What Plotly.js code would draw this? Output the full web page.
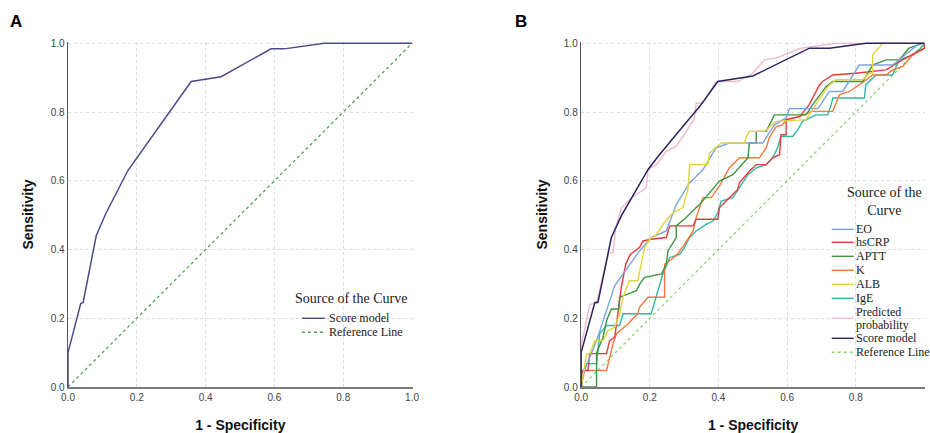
<!DOCTYPE html>
<html>
<head>
<meta charset="utf-8">
<script src="https://cdn.plot.ly/plotly-3.0.1.min.js"></script>
<style>html,body{margin:0;padding:0;background:#fff}#chart{width:930px;height:433px}</style>
</head>
<body>
<div id="chart"></div>
<script>
// ---------- data ----------
var tickVals = [0, 0.2, 0.4, 0.6, 0.8, 1.0];
var tickText = ["0.0", "0.2", "0.4", "0.6", "0.8", "1.0"];

var refX = [0, 1];
var refY = [0, 1];

// Panel A: Score model
var scoreAX = [0, 0, 0.037, 0.044, 0.082, 0.11, 0.174, 0.295, 0.358, 0.445, 0.590, 0.629, 0.745, 1];
var scoreAY = [0, 0.10, 0.243, 0.246, 0.44, 0.505, 0.63, 0.80, 0.889, 0.903, 0.984, 0.984, 1.0, 1];

// Panel B: Score model
var scoreBX = [0, 0, 0.04, 0.049, 0.088, 0.117, 0.195, 0.224, 0.272, 0.345, 0.398, 0.5, 0.665, 0.723, 0.83, 1];
var scoreBY = [0, 0.10, 0.246, 0.246, 0.435, 0.498, 0.633, 0.671, 0.729, 0.816, 0.889, 0.905, 0.986, 0.986, 1.0, 1];

var predX = [0, 0, 0.025, 0.045, 0.08, 0.093, 0.10, 0.117, 0.146, 0.19, 0.195, 0.219, 0.248, 0.277, 0.33, 0.335, 0.355, 0.393, 0.456, 0.50, 0.534, 0.568, 0.636, 0.742, 1];
var predY = [0, 0.12, 0.24, 0.245, 0.39, 0.391, 0.46, 0.52, 0.55, 0.58, 0.633, 0.647, 0.686, 0.70, 0.78, 0.826, 0.826, 0.889, 0.889, 0.913, 0.952, 0.957, 0.985, 1.0, 1];

var eoX = [0, 0.006, 0.045, 0.098, 0.17, 0.204, 0.248, 0.277, 0.316, 0.355, 0.393, 0.432, 0.529, 0.563, 0.597, 0.607, 0.69, 0.723, 0.762, 0.81, 0.907, 0.955, 0.985, 1];
var eoY = [0, 0.039, 0.135, 0.295, 0.396, 0.435, 0.454, 0.531, 0.594, 0.633, 0.696, 0.71, 0.71, 0.763, 0.783, 0.81, 0.81, 0.86, 0.86, 0.937, 0.937, 0.976, 1.0, 1];

var crpX = [0, 0.004, 0.02, 0.025, 0.074, 0.083, 0.098, 0.107, 0.117, 0.13, 0.143, 0.17, 0.18, 0.204, 0.248, 0.258, 0.326, 0.335, 0.398, 0.403, 0.422, 0.456, 0.461, 0.49, 0.51, 0.539, 0.558, 0.578, 0.582, 0.597, 0.597, 0.636, 0.664, 0.694, 0.703, 0.733, 0.80, 0.888, 0.936, 1, 1];
var crpY = [0, 0.048, 0.048, 0.097, 0.097, 0.135, 0.145, 0.213, 0.29, 0.357, 0.386, 0.406, 0.425, 0.43, 0.435, 0.469, 0.469, 0.488, 0.488, 0.522, 0.541, 0.575, 0.594, 0.628, 0.647, 0.647, 0.667, 0.676, 0.734, 0.734, 0.778, 0.787, 0.821, 0.879, 0.889, 0.908, 0.913, 0.923, 0.952, 0.986, 1];

var apttX = [0, 0.045, 0.045, 0.064, 0.074, 0.088, 0.11, 0.112, 0.137, 0.161, 0.171, 0.185, 0.234, 0.248, 0.253, 0.277, 0.277, 0.306, 0.335, 0.345, 0.374, 0.403, 0.442, 0.461, 0.486, 0.49, 0.51, 0.51, 0.539, 0.563, 0.655, 0.674, 0.694, 0.713, 0.733, 0.82, 0.849, 0.888, 0.926, 0.955, 0.994, 1];
var apttY = [0, 0, 0.10, 0.145, 0.193, 0.227, 0.227, 0.261, 0.271, 0.28, 0.30, 0.319, 0.329, 0.357, 0.396, 0.435, 0.469, 0.493, 0.522, 0.531, 0.565, 0.599, 0.618, 0.638, 0.667, 0.71, 0.71, 0.744, 0.744, 0.792, 0.792, 0.821, 0.85, 0.874, 0.889, 0.889, 0.937, 0.952, 0.952, 0.986, 1.0, 1];

var kX = [0, 0.006, 0.01, 0.074, 0.083, 0.093, 0.103, 0.137, 0.165, 0.17, 0.195, 0.243, 0.243, 0.277, 0.301, 0.326, 0.335, 0.345, 0.355, 0.379, 0.403, 0.432, 0.461, 0.519, 0.529, 0.539, 0.548, 0.568, 0.587, 0.597, 0.636, 0.67, 0.733, 0.752, 0.781, 0.81, 0.849, 0.888, 0.907, 0.936, 0.965, 1, 1];
var kY = [0, 0.03, 0.048, 0.048, 0.087, 0.126, 0.155, 0.184, 0.213, 0.232, 0.261, 0.261, 0.357, 0.382, 0.415, 0.454, 0.493, 0.522, 0.551, 0.551, 0.585, 0.638, 0.667, 0.667, 0.681, 0.696, 0.725, 0.758, 0.763, 0.778, 0.787, 0.802, 0.802, 0.85, 0.86, 0.879, 0.908, 0.908, 0.923, 0.932, 0.966, 0.986, 1];

var albX = [0, 0.006, 0.016, 0.025, 0.04, 0.064, 0.078, 0.098, 0.112, 0.122, 0.141, 0.165, 0.175, 0.185, 0.20, 0.219, 0.238, 0.267, 0.296, 0.311, 0.316, 0.369, 0.374, 0.403, 0.408, 0.476, 0.481, 0.49, 0.534, 0.568, 0.655, 0.674, 0.694, 0.718, 0.742, 0.82, 0.839, 0.849, 0.849, 0.878, 1];
var albY = [0, 0.04, 0.097, 0.097, 0.135, 0.135, 0.164, 0.174, 0.213, 0.261, 0.309, 0.309, 0.357, 0.406, 0.43, 0.444, 0.473, 0.507, 0.522, 0.575, 0.647, 0.647, 0.681, 0.705, 0.71, 0.71, 0.729, 0.744, 0.744, 0.773, 0.778, 0.807, 0.836, 0.874, 0.894, 0.894, 0.913, 0.913, 0.966, 1.0, 1];

var igeX = [0, 0, 0.016, 0.045, 0.054, 0.074, 0.112, 0.122, 0.204, 0.219, 0.238, 0.258, 0.287, 0.301, 0.316, 0.335, 0.364, 0.384, 0.398, 0.408, 0.442, 0.461, 0.486, 0.51, 0.539, 0.558, 0.572, 0.582, 0.616, 0.631, 0.645, 0.684, 0.718, 0.728, 0.733, 0.825, 0.829, 0.859, 0.907, 0.926, 0.965, 0.989, 1];
var igeY = [0, 0.03, 0.068, 0.068, 0.155, 0.179, 0.179, 0.213, 0.213, 0.261, 0.329, 0.377, 0.386, 0.406, 0.435, 0.454, 0.473, 0.483, 0.507, 0.541, 0.551, 0.58, 0.618, 0.638, 0.647, 0.667, 0.696, 0.729, 0.729, 0.749, 0.773, 0.792, 0.792, 0.821, 0.841, 0.841, 0.879, 0.908, 0.908, 0.952, 0.966, 0.986, 1];

var legendTitle = "Source of the Curve";
var legendNamesA = ["Score model", "Reference Line"];
var legendNamesB = ["EO", "hsCRP", "APTT", "K", "ALB", "IgE", "Predicted probability", "Score model", "Reference Line"];

// ---------- styles ----------
var colors = {
  EO: "#77a6e0", CRP: "#e53b3b", APTT: "#3f9440", K: "#f5793a",
  ALB: "#e2d43a", IgE: "#35b7a5", pred: "#f4b8c9",
  scoreA: "#4b4b8a", scoreB: "#27275f", refA: "#4fa24f", refB: "#8ed36c"
};

function line(x, y, color, xa, ya, dash, w) {
  return { x: x, y: y, xaxis: xa, yaxis: ya, type: "scatter", mode: "lines",
    line: { color: color, width: w || 1.4, dash: dash || "solid" }, hoverinfo: "skip", showlegend: false };
}

var traces = [
  line(refX, refY, colors.refA, "x", "y", "3px,3px", 1.3),
  line(scoreAX, scoreAY, colors.scoreA, "x", "y", null, 1.5),

  line(refX, refY, colors.refB, "x2", "y2", "3px,3px", 1.3),
  line(igeX, igeY, colors.IgE, "x2", "y2"),
  line(kX, kY, colors.K, "x2", "y2"),
  line(crpX, crpY, colors.CRP, "x2", "y2"),
  line(apttX, apttY, colors.APTT, "x2", "y2"),
  line(eoX, eoY, colors.EO, "x2", "y2"),
  line(albX, albY, colors.ALB, "x2", "y2"),
  line(predX, predY, colors.pred, "x2", "y2"),
  line(scoreBX, scoreBY, colors.scoreB, "x2", "y2", null, 1.5)
];

// ---------- layout helpers (pixel -> paper) ----------
var ML = 68, MR = 4.7, MT = 41.7, MB = 46.3;
var PW = 930 - ML - MR, PH = 433 - MT - MB;
function px(x) { return (x - ML) / PW; }
function py(y) { return (433 - MB - y) / PH; }

var tickFont = { family: "Liberation Sans, Arial, sans-serif", size: 10, color: "#444" };
var titleFont = { family: "Liberation Sans, Arial, sans-serif", size: 14, color: "#111", weight: "bold" };

function xaxisDef(domain, anchor) {
  return { domain: domain, anchor: anchor, range: [0, 1.0015], tickvals: tickVals, ticktext: tickText,
    tickfont: tickFont, showgrid: true, gridcolor: "#dcdcdc", griddash: "3px,3px", gridwidth: 1,
    zeroline: false, showline: true, linecolor: "#7a7a7a", linewidth: 1.6, ticks: "", fixedrange: true,
    title: { text: "<b>1 - Specificity</b>", font: titleFont, standoff: 21 } };
}
function yaxisDef(anchor) {
  return { domain: [0, 1], anchor: anchor, range: [0, 1.004], tickvals: tickVals, ticktext: tickText,
    tickfont: tickFont, showgrid: true, gridcolor: "#dcdcdc", griddash: "3px,3px", gridwidth: 1,
    zeroline: false, showline: true, linecolor: "#555", linewidth: 1.4, ticks: "", fixedrange: true,
    title: { text: "<b>Sensitivity</b>", font: titleFont, standoff: 13 } };
}

var serif = "Liberation Serif, Times New Roman, serif";
var labelFont = { family: "Liberation Sans, Arial", size: 17, color: "#000" };
var annotations = [
  { text: "<b>A</b>", x: px(9), y: py(11), xref: "paper", yref: "paper", showarrow: false,
    xanchor: "left", yanchor: "top", borderpad: 0, font: labelFont },
  { text: "<b>B</b>", x: px(514), y: py(11), xref: "paper", yref: "paper", showarrow: false,
    xanchor: "left", yanchor: "top", borderpad: 0, font: labelFont },
  // legend A title
  { text: legendTitle, x: px(351), y: py(298), xref: "paper", yref: "paper", showarrow: false,
    xanchor: "center", yanchor: "middle", font: { family: serif, size: 14, color: "#222" } },
  // legend B title (wrapped)
  { text: "Source of the<br>Curve", x: px(885), y: py(201), xref: "paper", yref: "paper", showarrow: false,
    xanchor: "center", yanchor: "middle", align: "center", font: { family: serif, size: 14, color: "#222" } }
];
var shapes = [];
var entryFont = { family: serif, size: 12, color: "#222" };

var legA = [{ c: colors.scoreA, d: "solid", y: 318 }, { c: colors.refA, d: "3px,3px", y: 332 }];
legA.forEach(function (e, i) {
  shapes.push({ type: "line", xref: "paper", yref: "paper", x0: px(302), x1: px(325), y0: py(e.y), y1: py(e.y),
    line: { color: e.c, width: 1.4, dash: e.d } });
  annotations.push({ text: legendNamesA[i], x: px(327), y: py(e.y), xref: "paper", yref: "paper", showarrow: false,
    xanchor: "left", yanchor: "middle", font: entryFont });
});

var legB = [
  { c: colors.EO, d: "solid", y: 229 }, { c: colors.CRP, d: "solid", y: 242 },
  { c: colors.APTT, d: "solid", y: 256 }, { c: colors.K, d: "solid", y: 270 },
  { c: colors.ALB, d: "solid", y: 284 }, { c: colors.IgE, d: "solid", y: 298 },
  { c: colors.pred, d: "solid", y: 318, lines: [312, 325] }, { c: colors.scoreB, d: "solid", y: 338 },
  { c: colors.refB, d: "3px,3px", y: 352 }
];
legB.forEach(function (e, i) {
  shapes.push({ type: "line", xref: "paper", yref: "paper", x0: px(832), x1: px(854), y0: py(e.y), y1: py(e.y),
    line: { color: e.c, width: 1.4, dash: e.d } });
  if (e.lines) {
    var words = legendNamesB[i].split(" ");
    words.forEach(function (w, k) {
      annotations.push({ text: w, x: px(855), y: py(e.lines[k]), xref: "paper", yref: "paper", showarrow: false,
        xanchor: "left", yanchor: "middle", borderpad: 0, font: entryFont });
    });
  } else {
    annotations.push({ text: legendNamesB[i], x: px(855), y: py(e.y), xref: "paper", yref: "paper", showarrow: false,
      xanchor: "left", yanchor: "middle", borderpad: 0, font: entryFont });
  }
});

var layout = {
  width: 930, height: 433,
  margin: { l: ML, r: MR, t: MT, b: MB, pad: 0 },
  paper_bgcolor: "#fff", plot_bgcolor: "#fff",
  showlegend: false,
  xaxis: xaxisDef([0, px(412.7)], "y"),
  yaxis: yaxisDef("x"),
  xaxis2: xaxisDef([px(581.3), 1], "y2"),
  yaxis2: yaxisDef("x2"),
  annotations: annotations,
  shapes: shapes
};

Plotly.newPlot("chart", traces, layout, { displayModeBar: false, staticPlot: true });
</script>
</body>
</html>
